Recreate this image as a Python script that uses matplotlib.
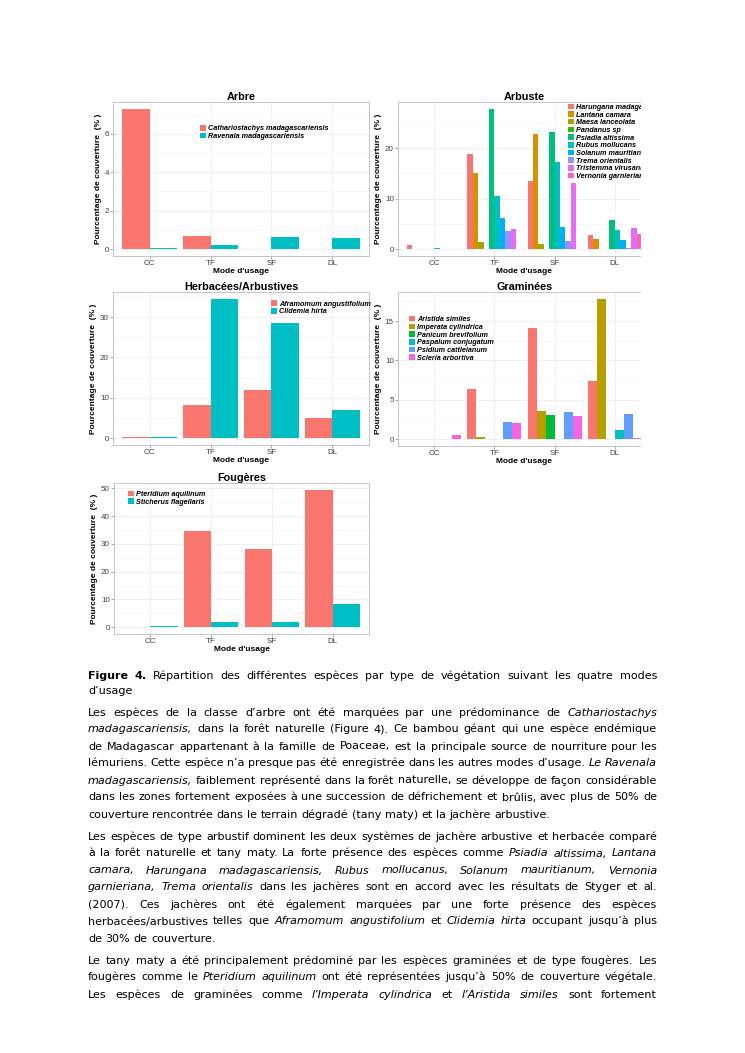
import matplotlib
matplotlib.use('Agg')
import matplotlib.pyplot as plt
from matplotlib.patches import Patch, Rectangle
from matplotlib.ticker import MultipleLocator
from matplotlib.font_manager import FontProperties
import numpy as np

plt.rcParams['font.family'] = 'Liberation Sans'

W, H = 745, 1053
modes = ['CC', 'TF', 'SF', 'DL']

# --- data (percent cover) ---
arbre_species = ['Cathariostachys madagascariensis', 'Ravenala madagascariensis']
arbre_values = [[7.3, 0.7, 0.0, 0.0],
                [0.07, 0.22, 0.65, 0.57]]

arbuste_species = ['Harungana madagascariensis', 'Lantana camara', 'Maesa lanceolata',
                   'Pandanus sp', 'Psiadia altissima', 'Rubus mollucans',
                   'Solanum mauritianum', 'Trema orientalis', 'Tristemma virusanum',
                   'Vernonia garnieriana']
arbuste_values = [[0.8, 18.9, 13.6, 2.7],
                  [0.0, 15.0, 22.9, 1.9],
                  [0.0, 1.3, 1.0, 0.0],
                  [0.0, 0.0, 0.0, 0.0],
                  [0.0, 27.8, 23.3, 5.7],
                  [0.15, 10.6, 17.3, 3.7],
                  [0.0, 6.2, 4.4, 1.8],
                  [0.0, 3.5, 1.6, 0.2],
                  [0.0, 4.0, 13.1, 4.2],
                  [0.0, 0.0, 0.0, 3.0]]

herb_species = ['Aframomum angustifolium', 'Clidemia hirta']
herb_values = [[0.2, 8.1, 12.0, 4.9],
               [0.2, 34.5, 28.6, 7.0]]

gram_species = ['Aristida similes', 'Imperata cylindrica', 'Panicum brevifolium',
                'Paspalum conjugatum', 'Psidium cattleianum', 'Scleria arbortiva']
gram_values = [[0.0, 6.4, 14.1, 7.4],
               [0.0, 0.3, 3.5, 17.8],
               [0.0, 0.0, 3.1, 0.0],
               [0.0, 0.0, 0.0, 1.2],
               [0.0, 2.2, 3.4, 3.2],
               [0.45, 2.0, 2.9, 0.15]]

foug_species = ['Pteridium aquilinum', 'Sticherus flagellaris']
foug_values = [[0.0, 34.5, 28.0, 49.5],
               [0.4, 1.8, 1.9, 8.3]]

pal2 = ['#F8766D', '#00BFC4']
pal6 = ['#F8766D', '#B79F00', '#00BA38', '#00BFC4', '#619CFF', '#F564E3']
pal10 = ['#F8766D', '#D89000', '#A3A500', '#39B600', '#00BF7D',
         '#00BFC4', '#00B0F6', '#9590FF', '#E76BF3', '#FF62BC']

fig = plt.figure(figsize=(W / 100, H / 100), dpi=100)


def px_axes(l, t, r, b):
    return fig.add_axes([l / W, 1 - b / H, (r - l) / W, (b - t) / H])


leg_font = FontProperties(family='Liberation Sans', weight='bold', style='italic', size=5.2)


def panel(box, title, species, values, colors, step, legpos):
    ax = px_axes(*box)
    n = len(values)
    w = 0.9 / n
    x = np.arange(1, 5)
    for k in range(n):
        ax.bar(x - 0.45 + (k + 0.5) * w, values[k], width=w, color=colors[k],
               linewidth=0, zorder=2)
    ymax = max(max(v) for v in values)
    ax.set_xlim(0.4, 4.6)
    ax.set_ylim(-0.05 * ymax, 1.05 * ymax)
    ax.set_xticks(x)
    ax.set_xticklabels(modes)
    ax.yaxis.set_major_locator(MultipleLocator(step))
    ax.yaxis.set_minor_locator(MultipleLocator(step / 2))
    ax.grid(which='major', color='#EBEBEB', lw=0.5, zorder=0)
    ax.grid(which='minor', axis='y', color='#F6F6F6', lw=0.5, zorder=0)
    ax.set_axisbelow(True)
    for s in ax.spines.values():
        s.set_color('#BDBDBD')
        s.set_linewidth(0.6)
    ax.tick_params(which='major', labelsize=5.8, labelcolor='#404040', color='#8A8A8A',
                   length=2, width=0.5, pad=1)
    ax.tick_params(which='minor', length=0)
    ax.set_title(title, fontsize=7.8, fontweight='bold', pad=1.5)
    ax.set_xlabel("Mode d'usage", fontsize=6.0, fontweight='bold', labelpad=0.3)
    ax.set_ylabel('Pourcentage de couverture  (% )', fontsize=6.0, fontweight='bold',
                  labelpad=2)
    handles = [Patch(facecolor=c, edgecolor='none') for c in colors]
    ax.legend(handles, species, loc='upper left', bbox_to_anchor=legpos, frameon=False,
              prop=leg_font, handlelength=0.85, handleheight=0.8, handletextpad=0.3,
              labelspacing=0.06, borderpad=0, borderaxespad=0)
    return ax


panel((113, 102, 369, 256), 'Arbre', arbre_species, arbre_values, pal2, 2, (0.34, 0.85))
panel((398, 102, 651, 256), 'Arbuste', arbuste_species, arbuste_values, pal10, 10, (0.672, 0.99))
panel((113, 292, 369, 445), 'Herbacées/Arbustives', herb_species, herb_values, pal2, 10, (0.617, 0.945))
panel((398, 292, 651, 446), 'Graminées', gram_species, gram_values, pal6, 5, (0.043, 0.845))
panel((114, 483, 369, 634), 'Fougères', foug_species, foug_values, pal2, 10, (0.055, 0.95))

# the right-hand panels are cut at the page crop
fig.add_artist(Rectangle((640.5 / W, 1 - 470 / H), (W - 640.5) / W, 390 / H,
                         transform=fig.transFigure, facecolor='white', edgecolor='none',
                         zorder=20))

# --- body text ---
caption = ["*Figure 4.* Répartition des différentes espèces par type de végétation suivant les quatre modes",
           "d’usage"]
para1 = ["Les espèces de la classe d’arbre ont été marquées par une prédominance de _Cathariostachys_",
         "_madagascariensis,_ dans la forêt naturelle (Figure 4). Ce bambou géant qui une espèce endémique",
         "de Madagascar appartenant à la famille de Poaceae, est la principale source de nourriture pour les",
         "lémuriens. Cette espèce n’a presque pas été enregistrée dans les autres modes d’usage. _Le Ravenala_",
         "_madagascariensis,_ faiblement représenté dans la forêt naturelle, se développe de façon considérable",
         "dans les zones fortement exposées à une succession de défrichement et brûlis, avec plus de 50% de",
         "couverture rencontrée dans le terrain dégradé (tany maty) et la jachère arbustive."]
para2 = ["Les espèces de type arbustif dominent les deux systèmes de jachère arbustive et herbacée comparé",
         "à la forêt naturelle et tany maty. La forte présence des espèces comme _Psiadia altissima, Lantana_",
         "_camara, Harungana madagascariensis, Rubus mollucanus, Solanum mauritianum, Vernonia_",
         "_garnieriana, Trema orientalis_ dans les jachères sont en accord avec les résultats de Styger et al.",
         "(2007). Ces jachères ont été également marquées par une forte présence des espèces",
         "herbacées/arbustives telles que _Aframomum angustifolium_ et _Clidemia hirta_ occupant jusqu’à plus",
         "de 30% de couverture."]
para3 = ["Le tany maty a été principalement prédominé par les espèces graminées et de type fougères. Les",
         "fougères comme le _Pteridium aquilinum_ ont été représentées jusqu’à 50% de couverture végétale.",
         "Les espèces de graminées comme _l’Imperata cylindrica_ et _l’Aristida similes_ sont fortement"]

TXT_L, TXT_R = 88, 657
FS = 8.0
renderer = fig.canvas.get_renderer()


def parse(line):
    words = []
    ital = bold = False
    for raw in line.split(' '):
        pieces, buf = [], ''
        for ch in raw:
            if ch in '_*':
                if buf:
                    pieces.append((buf, ital, bold))
                buf = ''
                if ch == '_':
                    ital = not ital
                else:
                    bold = not bold
            else:
                buf += ch
        if buf:
            pieces.append((buf, ital, bold))
        words.append(pieces)
    return words


def text_width(s, it, bd):
    kw = dict(fontsize=FS, family='DejaVu Sans', style='italic' if it else 'normal',
              weight='bold' if bd else 'normal')
    a = fig.text(0, 0, s + '|', **kw)
    b = fig.text(0, 0, '|', **kw)
    w = a.get_window_extent(renderer).width - b.get_window_extent(renderer).width
    a.remove()
    b.remove()
    return w


def draw_line(line, y, justify):
    words = parse(line)
    widths = [[text_width(s, it, bd) for s, it, bd in pieces] for pieces in words]
    totals = [sum(w) for w in widths]
    gap = text_width(' ', False, False)
    if justify and len(words) > 1:
        gap = (TXT_R - TXT_L - sum(totals)) / (len(words) - 1)
    x = TXT_L
    for pieces, ws, tot in zip(words, widths, totals):
        xx = x
        for (s, it, bd), w in zip(pieces, ws):
            fig.text(xx / W, 1 - y / H, s, fontsize=FS, family='DejaVu Sans',
                     style='italic' if it else 'normal',
                     weight='bold' if bd else 'normal', va='baseline', ha='left')
            xx += w
        x += tot + gap


y = 679
for i, ln in enumerate(caption):
    draw_line(ln, y, i < len(caption) - 1)
    y += 15.5
y += 5.5
for par, last_just in ((para1, False), (para2, False), (para3, True)):
    for i, ln in enumerate(par):
        draw_line(ln, y, (i < len(par) - 1) or last_just)
        y += 17
    y += 5

fig.savefig('out.png', dpi=100)
